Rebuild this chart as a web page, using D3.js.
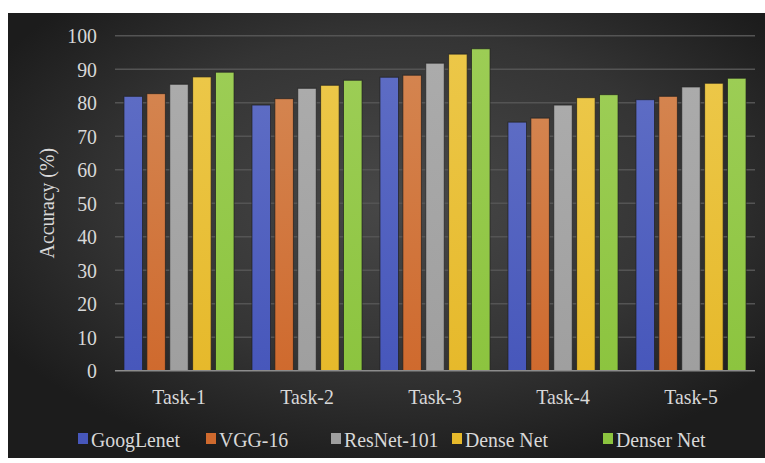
<!DOCTYPE html>
<html>
<head>
<meta charset="utf-8">
<script src="https://cdn.jsdelivr.net/npm/d3@7"></script>
<style>
  html, body { margin: 0; padding: 0; background: #ffffff; }
  svg { display: block; }
</style>
</head>
<body>
<script>
// Accuracy of five networks on five tasks
const tasks = ["Task-1", "Task-2", "Task-3", "Task-4", "Task-5"];
const models = ["GoogLenet", "VGG-16", "ResNet-101", "Dense Net", "Denser Net"];
const googlenet = [81.9, 79.3, 87.6, 74.2, 80.9];
const vgg16     = [82.7, 81.2, 88.2, 75.4, 81.9];
const resnet101 = [85.5, 84.3, 91.8, 79.3, 84.7];
const densenet  = [87.7, 85.2, 94.5, 81.5, 85.8];
const densernet = [89.1, 86.7, 96.1, 82.4, 87.3];
const yTicks = [0, 10, 20, 30, 40, 50, 60, 70, 80, 90, 100];

const seriesValues = [googlenet, vgg16, resnet101, densenet, densernet];
const colors = ["#4757bb", "#cf6a2e", "#9f9f9f", "#e6b92b", "#8cc43f"];
const topColors = ["#5d6cc4", "#d4844f", "#ababab", "#ecc748", "#9ccd55"];

const W = 765, H = 463;
const margin = { left: 115, right: 10, top: 35.7, bottom: 92.3 };
const plotW = W - margin.left - margin.right;
const plotH = H - margin.top - margin.bottom;

const svg = d3.select("body").append("svg")
  .attr("width", W).attr("height", H);

const defs = svg.append("defs");
const bg = defs.append("radialGradient").attr("id", "bg")
  .attr("cx", "52%").attr("cy", "42%").attr("r", "62%");
bg.append("stop").attr("offset", "0%").attr("stop-color", "#484848");
bg.append("stop").attr("offset", "60%").attr("stop-color", "#343434");
bg.append("stop").attr("offset", "100%").attr("stop-color", "#1c1c1c");

colors.forEach((c, i) => {
  const g = defs.append("linearGradient").attr("id", "bar" + i)
    .attr("x1", 0).attr("y1", 0).attr("x2", 0).attr("y2", 1);
  g.append("stop").attr("offset", "0%").attr("stop-color", topColors[i]);
  g.append("stop").attr("offset", "100%").attr("stop-color", c);
});

// chart panel
svg.append("rect")
  .attr("x", 8).attr("y", 13).attr("width", W - 8).attr("height", 445)
  .attr("fill", "url(#bg)");

const x0 = d3.scaleBand().domain(tasks)
  .range([margin.left, margin.left + plotW]).paddingInner(0.14).paddingOuter(0.07);
const x1 = d3.scaleBand().domain(models)
  .range([0, x0.bandwidth()]).paddingInner(0.19).paddingOuter(0);
const y = d3.scaleLinear().domain([0, 100]).range([margin.top + plotH, margin.top]);

// narrow serif type: Liberation Serif, squeezed horizontally
const font = '"Liberation Serif", "Times New Roman", serif';
const fontSize = 22;
const squeeze = 0.9;
const textColor = "#d8d8d8";

function styleText(sel) {
  sel.style("font-family", font).style("font-size", fontSize + "px")
    .attr("fill", textColor);
}

// gridlines
svg.append("g")
  .selectAll("line").data(yTicks.filter(t => t > 0)).join("line")
  .attr("x1", margin.left).attr("x2", margin.left + plotW)
  .attr("y1", d => y(d)).attr("y2", d => y(d))
  .attr("stroke", "#545454").attr("stroke-width", 1.4);

// y axis labels
const yAxis = d3.axisLeft(y).tickValues(yTicks).tickSize(0).tickPadding(20);
const gy = svg.append("g").attr("transform", `translate(${margin.left},0)`).call(yAxis);
gy.select(".domain").remove();
gy.selectAll("text").call(styleText).attr("transform", `scale(${squeeze},1)`);

// bars
const groups = svg.append("g").selectAll("g").data(tasks).join("g")
  .attr("transform", d => `translate(${x0(d)},0)`);
groups.selectAll("rect")
  .data((t, ti) => models.map((m, mi) => ({ m, mi, v: seriesValues[mi][ti] })))
  .join("rect")
  .attr("x", d => x1(d.m)).attr("width", x1.bandwidth())
  .attr("y", d => y(d.v)).attr("height", d => y(0) - y(d.v))
  .attr("fill", d => `url(#bar${d.mi})`)
  .attr("stroke", "#1e1e1e").attr("stroke-width", 1)
  .attr("stroke-opacity", 0.7);

// x axis
const xAxis = d3.axisBottom(x0).tickSize(0).tickPadding(18);
const gx = svg.append("g").attr("transform", `translate(0,${y(0)})`).call(xAxis);
gx.select(".domain").attr("stroke", "#8c8c8c").attr("stroke-width", 1.5)
  .attr("d", `M${margin.left},0H${margin.left + plotW}`);
gx.selectAll("text").call(styleText).attr("transform", `scale(${squeeze},1)`);

// y axis title
svg.append("text")
  .attr("transform", `translate(54,${margin.top + plotH / 2}) rotate(-90) scale(${squeeze},1)`)
  .attr("text-anchor", "middle")
  .call(styleText)
  .text("Accuracy (%)");

// legend
const legendX = [78, 206, 331, 452, 603];
const legend = svg.append("g").selectAll("g").data(models).join("g")
  .attr("transform", (d, i) => `translate(${legendX[i]},433)`);
legend.append("rect")
  .attr("width", 10).attr("height", 11)
  .attr("fill", (d, i) => colors[i]);
legend.append("text")
  .attr("transform", `translate(13,14) scale(${squeeze},1)`)
  .call(styleText)
  .text(d => d);
</script>
</body>
</html>
